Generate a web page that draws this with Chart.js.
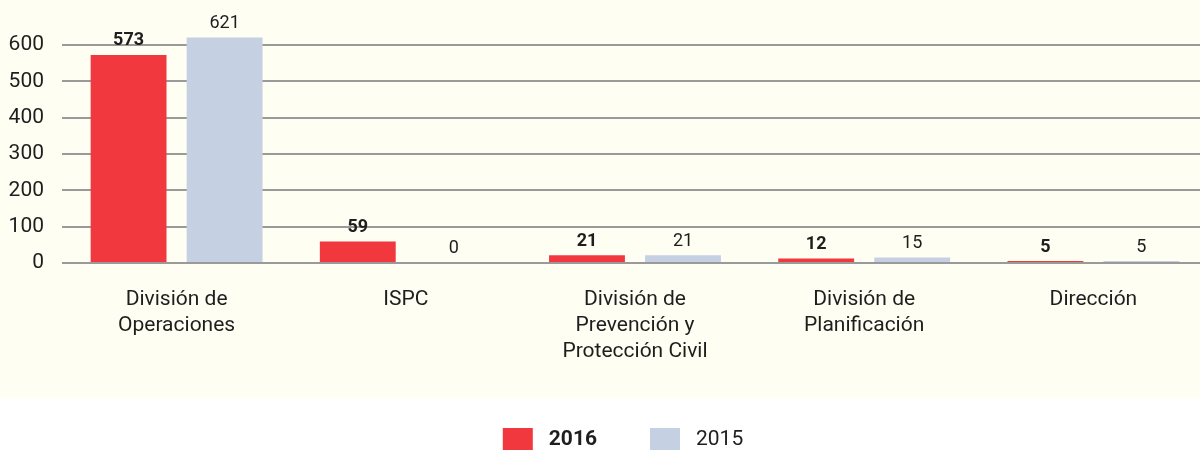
<!DOCTYPE html>
<html>
<head>
<meta charset="utf-8">
<script src="https://cdn.jsdelivr.net/npm/chart.js@4"></script>
<style>
  html, body { margin: 0; padding: 0; background: #fff; overflow: hidden; }
  #wrap { width: 1208px; height: 450px; background: linear-gradient(#fefef3 0 398px, #fff 398px); }
</style>
</head>
<body>
<div id="wrap"><canvas id="chart" width="1208" height="450"></canvas></div>
<script>
'use strict'

const categories = [
  ['División de', 'Operaciones'],
  ['ISPC'],
  ['División de', 'Prevención y', 'Protección Civil'],
  ['División de', 'Planificación'],
  ['Dirección']
];
const values2016 = [573, 59, 21, 12, 5];
const values2015 = [621, 0, 21, 15, 5];
const yTicks = [0, 100, 200, 300, 400, 500, 600];

const RED = '#f2383f';
const BLUE = '#c5d0e3';
const TEXT = '#1e1e1e';
const FONT = 'Roboto, "Liberation Sans", sans-serif';

/** writes the value over each bar, bold for 2016 */
const valueLabels = {
  id: 'valueLabels',
  afterDatasetsDraw(chart) {
    const ctx = chart.ctx;
    ctx.save();
    ctx.fillStyle = TEXT;
    ctx.textAlign = 'center';
    ctx.textBaseline = 'bottom';
    chart.data.datasets.forEach((ds, i) => {
      ctx.font = (i === 0 ? 'bold ' : '') + '18px ' + FONT;
      chart.getDatasetMeta(i).data.forEach((bar, j) => {
        ctx.fillText(String(ds.data[j]), bar.x, bar.y - 5);
      });
    });
    ctx.restore();
  }
};

/** legend at the bottom, 2016 label in bold */
const bottomLegend = {
  id: 'bottomLegend',
  afterDraw(chart) {
    const ctx = chart.ctx;
    const items = chart.data.datasets.map((ds, i) => ({
      text: ds.label, color: ds.backgroundColor, bold: i === 0
    }));
    const boxW = 30, boxH = 22, gap = 16, spacing = 53;
    ctx.save();
    ctx.textBaseline = 'middle';
    ctx.textAlign = 'left';
    let total = 0;
    items.forEach(it => {
      ctx.font = (it.bold ? 'bold ' : '') + '21px ' + FONT;
      it.w = boxW + gap + ctx.measureText(it.text).width;
      total += it.w;
    });
    total += spacing * (items.length - 1);
    let x = 623 - total / 2;
    const y = 439;
    items.forEach(it => {
      ctx.fillStyle = it.color;
      ctx.fillRect(x, y - boxH / 2, boxW, boxH);
      ctx.fillStyle = TEXT;
      ctx.font = (it.bold ? 'bold ' : '') + '21px ' + FONT;
      ctx.fillText(it.text, x + boxW + gap, y + 1);
      x += it.w + spacing;
    });
    ctx.restore();
  }
};

new Chart(document.getElementById('chart'), {
  type: 'bar',
  data: {
    labels: categories,
    datasets: [
      { label: '2016', data: values2016, backgroundColor: RED },
      { label: '2015', data: values2015, backgroundColor: BLUE }
    ]
  },
  options: {
    responsive: false,
    animation: false,
    layout: { padding: { top: 36, left: 8, right: 0, bottom: 69 } },
    categoryPercentage: 0.838,
    barPercentage: 0.79,
    plugins: {
      legend: { display: false },
      tooltip: { enabled: false }
    },
    scales: {
      x: {
        grid: { display: false },
        border: { display: false },
        afterFit(scale) {
          scale.paddingLeft = 0;
          scale.paddingRight = 0;
        },
        ticks: {
          color: TEXT,
          font: { family: FONT, size: 21, lineHeight: 1.24 },
          padding: 16,
          maxRotation: 0,
          autoSkip: false
        }
      },
      y: {
        min: 0,
        max: 625,
        afterBuildTicks(scale) {
          scale.ticks = yTicks.map(v => ({ value: v }));
        },
        afterFit(scale) {
          scale.width = 54;
        },
        grid: { color: '#9a9a9a', lineWidth: 2, drawTicks: false },
        border: { display: false },
        ticks: {
          color: TEXT,
          font: { family: FONT, size: 21 },
          padding: 18
        }
      }
    }
  },
  plugins: [valueLabels, bottomLegend]
});
</script>
</body>
</html>
